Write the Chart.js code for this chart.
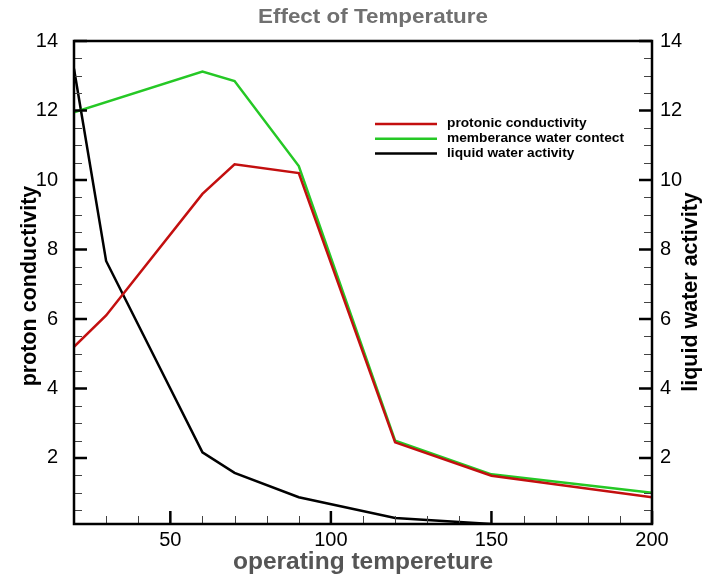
<!DOCTYPE html>
<html>
<head>
<meta charset="utf-8">
<script src="https://cdn.jsdelivr.net/npm/chart.js@4/dist/chart.umd.min.js"></script>
<style>
  body { margin: 0; background: #fff; }
  #wrap { width: 702px; height: 579px; }
</style>
</head>
<body>
<div id="wrap"><canvas id="myChart" width="702" height="579"></canvas></div>
<script>
const redColor = "#c30f0f";
const greenColor = "#25c825";
const blackColor = "#000000";
const fontFamily = "'Liberation Sans', Arial, sans-serif";

// values
const protonTemp = [20, 30, 60, 70, 90, 120, 150, 200];
const protonCond = [5.2, 6.1, 9.6, 10.45, 10.2, 2.45, 1.49, 0.87];
const membraneTemp = [20, 60, 70, 90, 120, 150, 200];
const membraneWater = [11.95, 13.12, 12.85, 10.4, 2.5, 1.53, 1.0];
const waterTemp = [20, 30, 60, 70, 90, 120, 150];
const waterActivity = [13.2, 7.67, 2.16, 1.57, 0.87, 0.27, 0.1];

const xTickLabels = [50, 100, 150, 200];
const xMinorTicks = [30, 40, 60, 70, 80, 90, 110, 120, 130, 140, 160, 170, 180, 190];
const yTickLabels = [2, 4, 6, 8, 10, 12, 14];
const yMinorTicks = [0.5, 1, 1.5, 2.5, 3, 3.5, 4.5, 5, 5.5, 6.5, 7, 7.5, 8.5, 9, 9.5,
  10.5, 11, 11.5, 12.5, 13, 13.5];

const toPoints = (xs, ys) => xs.map((x, i) => ({ x: x, y: ys[i] }));

// text squeezed or stretched sideways to the width it has in the picture
function fitText(ctx, text, x, y, width) {
  const w = ctx.measureText(text).width;
  ctx.save();
  ctx.translate(x, y);
  ctx.scale(width / w, 1);
  ctx.fillText(text, 0, 0);
  ctx.restore();
}

// frame, inward ticks, titles and legend
const decorations = {
  id: "decorations",
  afterDatasetsDraw(chart) {
    const ctx = chart.ctx;
    const area = chart.chartArea;
    const sx = chart.scales.x;
    const sy = chart.scales.y;
    ctx.save();

    // minor ticks
    ctx.lineWidth = 1;
    ctx.strokeStyle = "#444";
    ctx.beginPath();
    xMinorTicks.forEach((v) => {
      const px = Math.round(sx.getPixelForValue(v)) + 0.5;
      ctx.moveTo(px, area.bottom);
      ctx.lineTo(px, area.bottom - 8);
    });
    yMinorTicks.forEach((v) => {
      const py = Math.round(sy.getPixelForValue(v)) + 0.5;
      ctx.moveTo(area.left, py);
      ctx.lineTo(area.left + 8, py);
      ctx.moveTo(area.right, py);
      ctx.lineTo(area.right - 8, py);
    });
    ctx.stroke();

    // major ticks
    ctx.lineWidth = 2.5;
    ctx.strokeStyle = "#000";
    ctx.beginPath();
    xTickLabels.forEach((v) => {
      const px = sx.getPixelForValue(v);
      ctx.moveTo(px, area.bottom);
      ctx.lineTo(px, area.bottom - 13);
    });
    yTickLabels.forEach((v) => {
      const py = sy.getPixelForValue(v);
      ctx.moveTo(area.left, py);
      ctx.lineTo(area.left + 13, py);
      ctx.moveTo(area.right, py);
      ctx.lineTo(area.right - 13, py);
    });
    ctx.stroke();

    // frame
    ctx.strokeRect(area.left, area.top, area.right - area.left, area.bottom - area.top);

    ctx.textAlign = "center";
    ctx.textBaseline = "middle";

    // chart title
    ctx.fillStyle = "#707070";
    ctx.font = "bold 20px " + fontFamily;
    fitText(ctx, "Effect of Temperature", 373, 17, 230);

    // x title
    ctx.fillStyle = "#555";
    ctx.font = "bold 23px " + fontFamily;
    fitText(ctx, "operating tempereture", 363, 563, 260);

    // y titles, both reading upward
    ctx.fillStyle = "#000";
    ctx.font = "bold 21.5px " + fontFamily;
    ctx.save();
    ctx.translate(30, 286);
    ctx.rotate(-Math.PI / 2);
    ctx.fillText("proton conductivity", 0, 0);
    ctx.restore();
    ctx.save();
    ctx.translate(691, 292);
    ctx.rotate(-Math.PI / 2);
    ctx.fillText("liquid water activity", 0, 0);
    ctx.restore();

    // legend
    ctx.textAlign = "left";
    ctx.font = "bold 12px " + fontFamily;
    const legendWidths = [137, 177, 137];
    chart.data.datasets.forEach((ds, i) => {
      const y = 124 + i * 14.8;
      ctx.strokeStyle = ds.borderColor;
      ctx.lineWidth = 2.5;
      ctx.beginPath();
      ctx.moveTo(375, y);
      ctx.lineTo(437, y);
      ctx.stroke();
      ctx.fillStyle = "#000";
      const w = ctx.measureText(ds.label).width;
      fitText(ctx, ds.label, 447, y, w * 177 / ctx.measureText(chart.data.datasets[1].label).width);
    });
    ctx.restore();
  },
};

const ctx = document.getElementById("myChart").getContext("2d");
const myChart = new Chart(ctx, {
  type: "line",
  data: {
    datasets: [
      {
        label: "protonic conductivity",
        data: toPoints(protonTemp, protonCond),
        borderColor: redColor,
        backgroundColor: redColor,
        borderWidth: 2.5,
        pointRadius: 0,
        yAxisID: "y",
      },
      {
        label: "memberance water contect",
        data: toPoints(membraneTemp, membraneWater),
        borderColor: greenColor,
        backgroundColor: greenColor,
        borderWidth: 2.5,
        pointRadius: 0,
        yAxisID: "y",
      },
      {
        label: "liquid water activity",
        data: toPoints(waterTemp, waterActivity),
        borderColor: blackColor,
        backgroundColor: blackColor,
        borderWidth: 2.5,
        pointRadius: 0,
        yAxisID: "y2",
      },
    ],
  },
  options: {
    responsive: false,
    animation: false,
    layout: { padding: { top: 41 } },
    plugins: {
      legend: { display: false },
      title: { display: false },
      tooltip: { enabled: false },
    },
    scales: {
      x: {
        type: "linear",
        min: 20,
        max: 200,
        afterBuildTicks: (scale) => {
          scale.ticks = xTickLabels.map((v) => ({ value: v }));
        },
        afterFit: (scale) => {
          scale.height = 55;
        },
        grid: { display: false, drawTicks: false },
        border: { display: false },
        ticks: {
          color: "#000",
          padding: 4,
          maxRotation: 0,
          font: { family: fontFamily, size: 20 },
        },
      },
      y: {
        position: "left",
        min: 0.1,
        max: 14,
        afterBuildTicks: (scale) => {
          scale.ticks = yTickLabels.map((v) => ({ value: v }));
        },
        afterFit: (scale) => {
          scale.width = 74;
        },
        grid: { display: false, drawTicks: false },
        border: { display: false },
        ticks: {
          color: "#000",
          padding: 16,
          font: { family: fontFamily, size: 20 },
        },
      },
      y2: {
        position: "right",
        min: 0.1,
        max: 14,
        afterBuildTicks: (scale) => {
          scale.ticks = yTickLabels.map((v) => ({ value: v }));
        },
        afterFit: (scale) => {
          scale.width = 50;
        },
        grid: { display: false, drawTicks: false },
        border: { display: false },
        ticks: {
          color: "#000",
          padding: 8,
          font: { family: fontFamily, size: 20 },
        },
      },
    },
  },
  plugins: [decorations],
});
</script>
</body>
</html>
